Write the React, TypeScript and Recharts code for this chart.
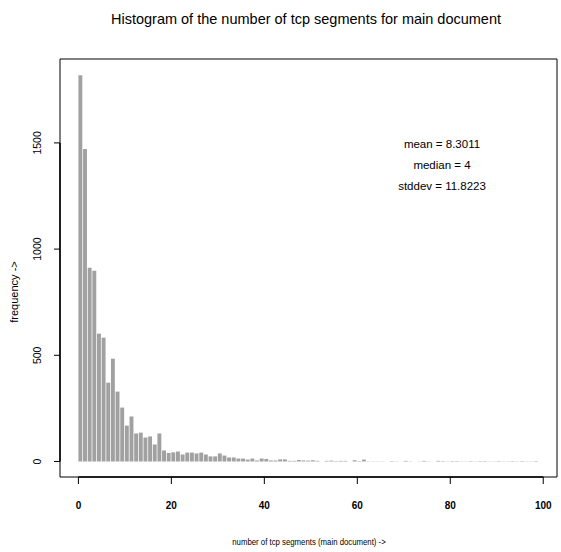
import { Bar, BarChart, ReferenceArea, ReferenceLine, XAxis, YAxis } from "recharts";

// counts per unit-wide bin, 0-1, 1-2, ... 98-99
const frequency = [
  1819, 1471, 912, 898, 602, 583, 371, 484, 329, 254,
  169, 212, 132, 136, 113, 118, 80, 132, 52, 40,
  43, 47, 33, 42, 42, 38, 42, 33, 24, 24,
  38, 28, 19, 19, 14, 14, 9, 14, 5, 14,
  12, 5, 5, 10, 10, 3, 3, 7, 5, 4,
  6, 3, 0, 3, 4, 2, 3, 3, 0, 6,
  2, 9, 1, 1, 1, 1, 0, 2, 1, 0,
  3, 1, 0, 1, 3, 1, 0, 3, 2, 1,
  2, 2, 1, 1, 2, 1, 2, 2, 1, 1,
  2, 1, 1, 2, 1, 2, 1, 1, 2,
];

const xTicks = [0, 20, 40, 60, 80, 100];
const yTicks = [0, 500, 1000, 1500];
const xDomain = [-3.96, 102.96];
const yDomain = [-73, 1895];

const statLines = ["mean = 8.3011", "median = 4", "stddev = 11.8223"];

const data = frequency.map((count, i) => ({ segments: i + 0.5, count }));

const font = "'Liberation Sans', Arial, sans-serif";

const XTick = ({ x, y, payload }: any) => (
  <text
    x={x}
    y={y}
    dy={23}
    textAnchor="middle"
    fontSize={10}
    fontWeight="bold"
    fill="#000"
    fontFamily={font}
  >
    {payload.value}
  </text>
);

const YTick = ({ x, y, payload }: any) => (
  <text
    x={x - 11}
    y={y}
    textAnchor="middle"
    fontSize={10.5}
    fill="#000"
    fontFamily={font}
    transform={`rotate(-90, ${x - 11}, ${y})`}
  >
    {payload.value}
  </text>
);

const App = () => {
  return (
    <div
      style={{
        position: "absolute",
        left: 0,
        top: 0,
        width: 561,
        height: 552,
        background: "#fff",
        fontFamily: font,
      }}
    >
      <div
        style={{
          position: "absolute",
          top: 11,
          left: 0,
          width: 612,
          textAlign: "center",
          fontSize: 14.5,
          color: "#000",
        }}
      >
        Histogram of the number of tcp segments for main document
      </div>
      <BarChart
        width={561}
        height={552}
        data={data}
        margin={{ top: 59, right: 4, bottom: 0, left: 0 }}
      >
        <XAxis
          dataKey="segments"
          type="number"
          domain={xDomain}
          ticks={xTicks}
          allowDataOverflow
          axisLine={false}
          tickLine={{ stroke: "#000" }}
          tickSize={7}
          tick={<XTick />}
          height={75}
        />
        <YAxis
          type="number"
          domain={yDomain}
          ticks={yTicks}
          allowDataOverflow
          axisLine={false}
          tickLine={{ stroke: "#000" }}
          tickSize={6}
          tick={<YTick />}
          width={60}
        />
        <Bar dataKey="count" fill="#a1a1a1" barSize={3.9} isAnimationActive={false} />
        <ReferenceArea
          x1={xDomain[0]}
          x2={xDomain[1]}
          y1={yDomain[0]}
          y2={yDomain[1]}
          fill="none"
          stroke="#000"
          strokeWidth={1}
          ifOverflow="visible"
        />
        <ReferenceLine
          segment={[
            { x: xTicks[0], y: yDomain[0] },
            { x: xTicks[xTicks.length - 1], y: yDomain[0] },
          ]}
          stroke="#000"
          strokeWidth={1.5}
          ifOverflow="visible"
        />
        <ReferenceLine
          segment={[
            { x: xDomain[0], y: yTicks[0] },
            { x: xDomain[0], y: yTicks[yTicks.length - 1] },
          ]}
          stroke="#000"
          strokeWidth={1.5}
          ifOverflow="visible"
        />
      </BarChart>
      {statLines.map((line, i) => (
        <div
          key={line}
          style={{
            position: "absolute",
            left: 342,
            width: 200,
            top: 138 + i * 21,
            textAlign: "center",
            fontSize: 11.5,
            color: "#000",
          }}
        >
          {line}
        </div>
      ))}
      <div
        style={{
          position: "absolute",
          left: 159,
          width: 300,
          top: 536,
          textAlign: "center",
          fontSize: 9.5,
          color: "#000",
          transform: "scaleX(0.82)",
        }}
      >
        number of tcp segments (main document) -&gt;
      </div>
      <div
        style={{
          position: "absolute",
          left: 14 - 50,
          width: 100,
          top: 293 - 7,
          textAlign: "center",
          fontSize: 11,
          color: "#000",
          transform: "rotate(-90deg)",
        }}
      >
        frequency -&gt;
      </div>
    </div>
  );
};

export default App;
